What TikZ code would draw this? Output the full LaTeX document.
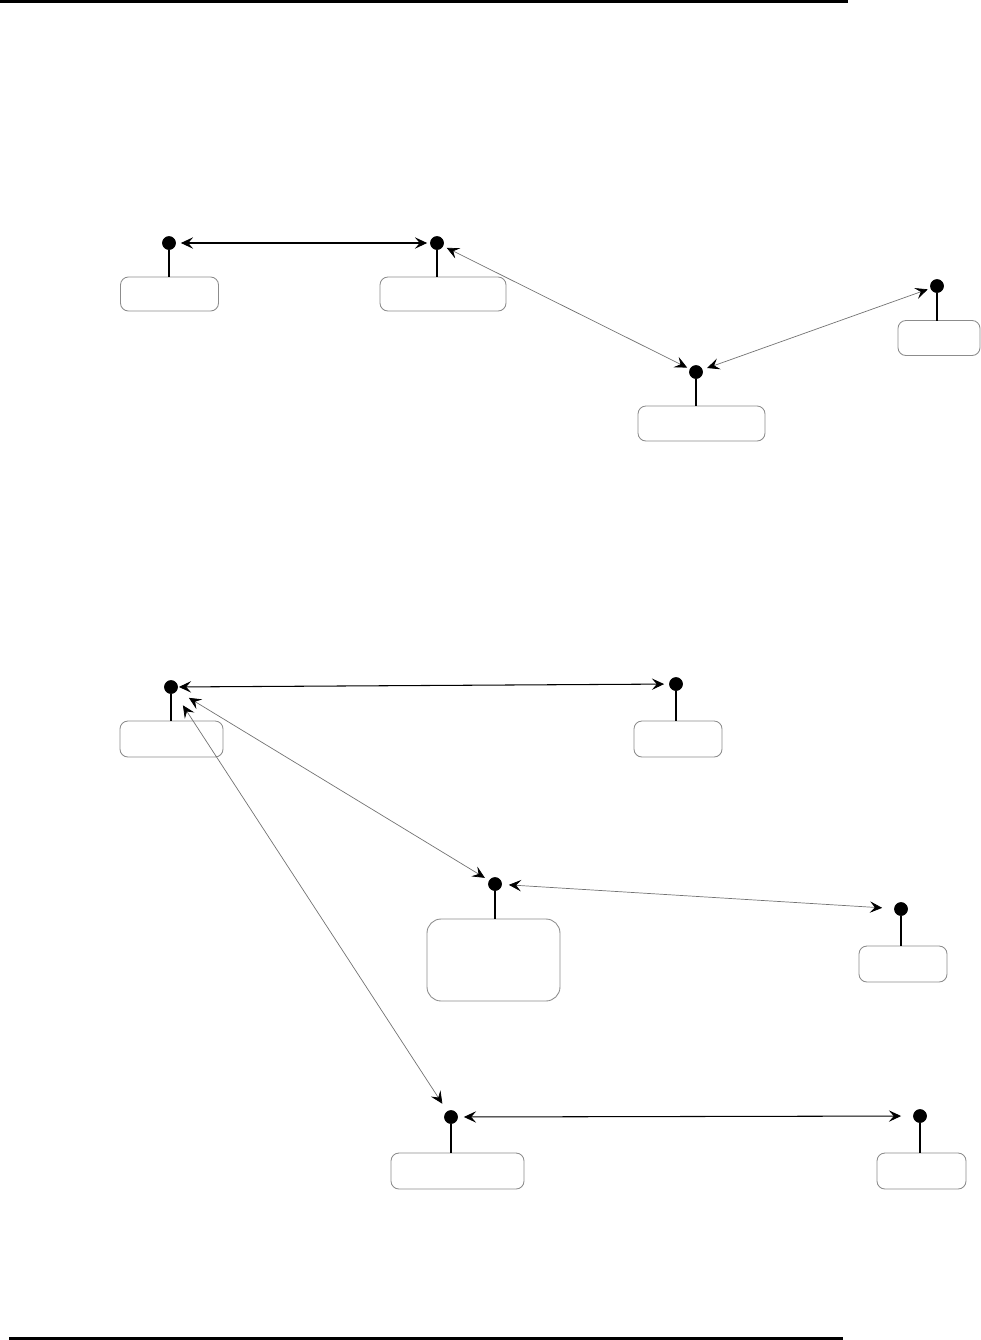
\documentclass[tikz,border=0pt]{standalone}
\usetikzlibrary{arrows.meta}

\begin{document}
\begin{tikzpicture}[x=0.02cm, y=-0.02cm,
	dot/.style={circle, fill=black, draw=black, line width=0.4pt, minimum size=0.26cm, inner sep=0pt},
	statebox/.style={rectangle, rounded corners=4.5pt, draw=black!45, line width=0.5pt, inner sep=0pt, outer sep=0pt},
	stem/.style={line width=0.6pt, color=black},
	link/.style={{Stealth[length=7pt, width=6.5pt, inset=2.8pt, color=black]}-{Stealth[length=7pt, width=6.5pt, inset=2.8pt, color=black]}},
	strong/.style={link, line width=0.6pt, color=black},
	faint/.style={link, line width=0.4pt, color=black!55}]

	\useasboundingbox (0,0) rectangle (981,1340);

	% page rules
	\draw [line width=1.7pt] (0,1.5) -- (848,1.5);
	\draw [line width=1.7pt] (9,1338.5) -- (843,1338.5);

	% first picture
	\node[dot](one) at (169,243){};
	\node[dot](two) at (437,243){};
	\node[dot](three) at (696,372){};
	\node[dot](four) at (937,286){};

	\node[statebox, minimum width=1.96cm, minimum height=0.68cm](oneBox) at (169.5,294){};
	\node[statebox, minimum width=2.52cm, minimum height=0.68cm](twoBox) at (443,294){};
	\node[statebox, minimum width=2.54cm, minimum height=0.70cm](threeBox) at (701.5,423.5){};
	\node[statebox, minimum width=1.64cm, minimum height=0.70cm](fourBox) at (939,338){};

	\draw [stem] (one) -- (one |- oneBox.north);
	\draw [stem] (two) -- (two |- twoBox.north);
	\draw [stem] (three) -- (three |- threeBox.north);
	\draw [stem] (four) -- (four |- fourBox.north);

	\draw [strong, shorten <=0.1cm, shorten >=0.06cm] (one) -- (two);
	\draw [faint, shorten <=0.08cm, shorten >=0.06cm] (two) -- (three);
	\draw [faint, shorten <=0.1cm, shorten >=0.06cm] (three) -- (four);

	% second picture
	\node[dot](five) at (171,687){};
	\node[dot](six) at (676,684){};
	\node[dot](seven) at (495,884){};
	\node[dot](eight) at (901,909){};
	\node[dot](nine) at (451,1117){};
	\node[dot](ten) at (920,1116){};

	\node[statebox, minimum width=2.06cm, minimum height=0.72cm](fiveBox) at (171.5,739){};
	\node[statebox, minimum width=1.76cm, minimum height=0.72cm](sixBox) at (678,739){};
	\node[statebox, rounded corners=8pt, minimum width=2.66cm, minimum height=1.64cm](sevenBox) at (493.5,960){};
	\node[statebox, minimum width=1.76cm, minimum height=0.72cm](eightBox) at (903,964){};
	\node[statebox, minimum width=2.66cm, minimum height=0.72cm](nineBox) at (457.5,1171){};
	\node[statebox, minimum width=1.78cm, minimum height=0.72cm](tenBox) at (921.5,1171){};

	\draw [stem] (five) -- (five |- fiveBox.north);
	\draw [stem] (six) -- (six |- sixBox.north);
	\draw [stem] (seven) -- (seven |- sevenBox.north);
	\draw [stem] (eight) -- (eight |- eightBox.north);
	\draw [stem] (nine) -- (nine |- nineBox.north);
	\draw [stem] (ten) -- (ten |- tenBox.north);

	\draw [strong, shorten <=0.02cm, shorten >=0.1cm] (five) -- (six);
	\draw [faint, shorten <=0.28cm, shorten >=0.1cm] (five) -- (seven);
	\draw [faint, shorten <=0.3cm, shorten >=0.18cm] (five) -- (nine);
	\draw [faint, shorten <=0.14cm, shorten >=0.24cm] (seven) -- (eight);
	\draw [strong, shorten <=0.12cm, shorten >=0.24cm] (nine) -- (ten);

\end{tikzpicture}
\end{document}
